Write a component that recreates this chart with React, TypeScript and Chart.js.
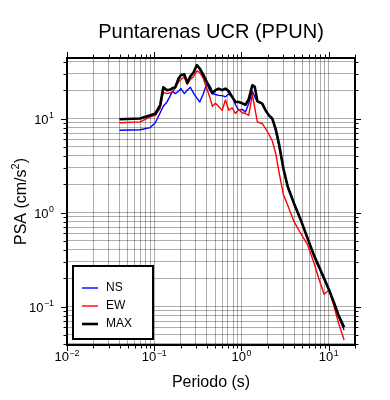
import React, { useEffect, useRef } from "react";
import { Chart, registerables } from "chart.js";
Chart.register(...registerables);

const titleText = "Puntarenas UCR (PPUN)";
const xAxisTitle = "Periodo (s)";
const yAxisTitleBase = "PSA (cm/s";
const yAxisTitleSup = "2";
const yAxisTitleEnd = ")";

const xDecades = [-2, -1, 0, 1];
const yDecades = [-1, 0, 1];

const periods = [0.04, 0.069, 0.09, 0.103, 0.117, 0.127, 0.14, 0.153, 0.162, 0.174,
  0.19, 0.202, 0.221, 0.239, 0.259, 0.283, 0.308, 0.332, 0.363, 0.399,
  0.432, 0.464, 0.503, 0.548, 0.6, 0.655, 0.714, 0.782, 0.853, 0.931,
  1.02, 1.11, 1.21, 1.33, 1.42, 1.52, 1.73, 1.89, 2.06, 2.25,
  2.46, 2.69, 3.02, 3.38, 4.0, 4.77, 5.69, 6.78, 7.68, 8.84,
  10.1, 11.5, 13.0, 15.0];

const nsVals = [7.5, 7.6, 8.0, 9.0, 11.5, 13.5, 15, 17.5, 19.5, 18.4,
  19.5, 20.8, 18.4, 20, 21.5, 18.5, 16.5, 15, 18, 23.5,
  20, 18.4, 18, 17.6, 17.5, 17, 18.2, 17, 14, 12.2,
  12.5, 11.7, 14.4, 19.5, 17, 15, 14.3, 12, 10.7, 9.9,
  7.4, 5.1, 2.9, 1.85, 1.23, 0.83, 0.53, 0.34, 0.26, 0.195,
  0.147, 0.107, 0.078, 0.056];

const ewVals = [9.0, 9.2, 10.4, 10.8, 12.8, 19, 18.4, 18.8, 19.2, 21,
  24.5, 26, 27.7, 23, 26, 28, 32, 31, 27, 21,
  17, 13.5, 14.5, 13.4, 12.2, 15.7, 12.3, 13, 11.3, 12.5,
  11.5, 11.3, 10.8, 18, 13, 9.2, 8.8, 7.8, 6.8, 5.8,
  4.3, 2.7, 1.55, 1.2, 0.8, 0.6, 0.46, 0.29, 0.2, 0.135,
  0.15, 0.1, 0.066, 0.044];

const maxVals = [9.8, 10.0, 10.8, 11.3, 13.9, 21.5, 20, 20.3, 21, 21.5,
  26.6, 28.9, 29.5, 24, 28, 31, 37, 34, 29.5, 24.5,
  21.7, 18.6, 20, 20.8, 20, 20.8, 19.5, 17, 15, 15,
  14.5, 14, 16, 22.6, 21.7, 15.3, 14.4, 12.2, 10.8, 10,
  7.8, 5.4, 2.95, 1.9, 1.25, 0.84, 0.54, 0.35, 0.27, 0.2,
  0.15, 0.11, 0.08, 0.06];

const seriesLabels = ["NS", "EW", "MAX"];
const seriesColors = ["#0000ff", "#ff0000", "#000000"];

const FONT = "'Liberation Sans', Arial, Helvetica, sans-serif";
const GRID = "rgba(0,0,0,0.32)";

function logGrid(min: number, max: number) {
  const out: { value: number; major: boolean }[] = [];
  const e0 = Math.floor(Math.log10(min));
  const e1 = Math.ceil(Math.log10(max));
  for (let e = e0; e <= e1; e++) {
    for (let s = 1; s <= 9; s++) {
      const v = parseFloat((s * Math.pow(10, e)).toPrecision(6));
      if (v >= min * 0.9999 && v <= max * 1.0001) out.push({ value: v, major: s === 1 });
    }
  }
  return out;
}

function drawPow(ctx: CanvasRenderingContext2D, exp: number, x: number, y: number, align: "center" | "right", size: number) {
  const base = "10";
  const sup = exp < 0 ? "\u2212" + Math.abs(exp) : String(exp);
  const supSize = size * 0.68;
  ctx.font = `${size}px ${FONT}`;
  const wb = ctx.measureText(base).width;
  ctx.font = `${supSize}px ${FONT}`;
  const ws = ctx.measureText(sup).width;
  const total = wb + ws + 0.5;
  const x0 = align === "center" ? x - total / 2 : x - total;
  ctx.textAlign = "left";
  ctx.textBaseline = "alphabetic";
  ctx.font = `${size}px ${FONT}`;
  ctx.fillText(base, x0, y);
  ctx.font = `${supSize}px ${FONT}`;
  ctx.fillText(sup, x0 + wb + 0.5, y - size * 0.42);
}

const framePlugin = {
  id: "gmtFrame",
  afterDraw(chart: any) {
    const { ctx, chartArea } = chart;
    const { left, right, top, bottom } = chartArea;
    const xs = chart.scales.x;
    const ys = chart.scales.y;
    ctx.save();
    ctx.strokeStyle = "#000";
    ctx.lineWidth = 1;
    ctx.lineCap = "butt";
    ctx.beginPath();
    for (const t of logGrid(xs.min, xs.max)) {
      const px = Math.round(xs.getPixelForValue(t.value)) + 0.5;
      const len = t.major ? 6 : 3.5;
      ctx.moveTo(px, bottom);
      ctx.lineTo(px, bottom + len);
      ctx.moveTo(px, top);
      ctx.lineTo(px, top - len);
    }
    for (const t of logGrid(ys.min, ys.max)) {
      const py = Math.round(ys.getPixelForValue(t.value)) + 0.5;
      const len = t.major ? 6 : 3.5;
      ctx.moveTo(left, py);
      ctx.lineTo(left - len, py);
      ctx.moveTo(right, py);
      ctx.lineTo(right + len, py);
    }
    ctx.stroke();
    ctx.lineWidth = 2;
    ctx.strokeRect(left, top, right - left, bottom - top);

    ctx.fillStyle = "#000";
    for (const d of xDecades) {
      const px = xs.getPixelForValue(Math.pow(10, d));
      drawPow(ctx, d, px, bottom + 16, "center", 13);
    }
    for (const d of yDecades) {
      const py = ys.getPixelForValue(Math.pow(10, d));
      drawPow(ctx, d, left - 13, py + 5, "right", 13);
    }
    ctx.textAlign = "center";
    ctx.textBaseline = "alphabetic";
    ctx.font = `20px ${FONT}`;
    ctx.fillText(titleText, (left + right) / 2, 38);
    ctx.font = `16px ${FONT}`;
    ctx.fillText(xAxisTitle, (left + right) / 2, bottom + 42);
    ctx.save();
    ctx.translate(26, (top + bottom) / 2);
    ctx.rotate(-Math.PI / 2);
    ctx.font = `16px ${FONT}`;
    const w1 = ctx.measureText(yAxisTitleBase).width;
    ctx.font = `11px ${FONT}`;
    const w2 = ctx.measureText(yAxisTitleSup).width;
    ctx.font = `16px ${FONT}`;
    const w3 = ctx.measureText(yAxisTitleEnd).width;
    const tot = w1 + w2 + w3;
    let cx = -tot / 2;
    ctx.textAlign = "left";
    ctx.fillText(yAxisTitleBase, cx, 0);
    cx += w1;
    ctx.font = `11px ${FONT}`;
    ctx.fillText(yAxisTitleSup, cx, -7);
    cx += w2;
    ctx.font = `16px ${FONT}`;
    ctx.fillText(yAxisTitleEnd, cx, 0);
    ctx.restore();

    const lx = left + 6, ly = bottom - 79, lw = 80, lh = 73;
    ctx.fillStyle = "#fff";
    ctx.fillRect(lx, ly, lw, lh);
    ctx.lineWidth = 2;
    ctx.strokeStyle = "#000";
    ctx.strokeRect(lx, ly, lw, lh);
    chart.data.datasets.forEach((ds: any, i: number) => {
      const yy = ly + 22 + i * 18;
      ctx.beginPath();
      ctx.strokeStyle = ds.borderColor;
      ctx.lineWidth = ds.borderWidth;
      ctx.moveTo(lx + 9, yy);
      ctx.lineTo(lx + 25, yy);
      ctx.stroke();
      ctx.fillStyle = "#000";
      ctx.font = `12px ${FONT}`;
      ctx.textAlign = "left";
      ctx.textBaseline = "middle";
      ctx.fillText(ds.label, lx + 33, yy);
    });
    ctx.restore();
  },
};

export default function App() {
  const ref = useRef<HTMLCanvasElement | null>(null);
  useEffect(() => {
    if (!ref.current) return;
    const mk = (vals: number[]) => periods.map((p, i) => ({ x: p, y: vals[i] }));
    const chart = new Chart(ref.current, {
      type: "line",
      data: {
        datasets: [
          { label: seriesLabels[0], data: mk(nsVals), borderColor: seriesColors[0], borderWidth: 1.4, order: 3 },
          { label: seriesLabels[1], data: mk(ewVals), borderColor: seriesColors[1], borderWidth: 1.4, order: 2 },
          { label: seriesLabels[2], data: mk(maxVals), borderColor: seriesColors[2], borderWidth: 2.6, order: 1 },
        ] as any,
      },
      options: {
        responsive: false,
        animation: false,
        layout: { padding: { left: 67, right: 35, top: 58, bottom: 55 } },
        elements: { point: { radius: 0 }, line: { tension: 0, borderJoinStyle: "round" } },
        plugins: { legend: { display: false }, title: { display: false }, tooltip: { enabled: false } },
        scales: {
          x: {
            type: "logarithmic",
            min: 0.01,
            max: 20,
            ticks: { display: false, autoSkip: false },
            grid: { color: GRID, lineWidth: 1, drawTicks: false },
            border: { display: false },
            afterBuildTicks: (s: any) => { s.ticks = logGrid(0.01, 20); },
            afterFit: (s: any) => { s.height = 0; },
          },
          y: {
            type: "logarithmic",
            min: 0.039,
            max: 44,
            ticks: { display: false, autoSkip: false },
            grid: { color: GRID, lineWidth: 1, drawTicks: false },
            border: { display: false },
            afterBuildTicks: (s: any) => { s.ticks = logGrid(0.039, 44); },
            afterFit: (s: any) => { s.width = 0; },
          },
        },
      } as any,
      plugins: [framePlugin],
    });
    return () => chart.destroy();
  }, []);
  return (
    <div style={{ position: "absolute", left: 0, top: 0, width: 390, height: 400, background: "#fff" }}>
      <canvas ref={ref} width={390} height={400} style={{ display: "block" }} />
    </div>
  );
}
